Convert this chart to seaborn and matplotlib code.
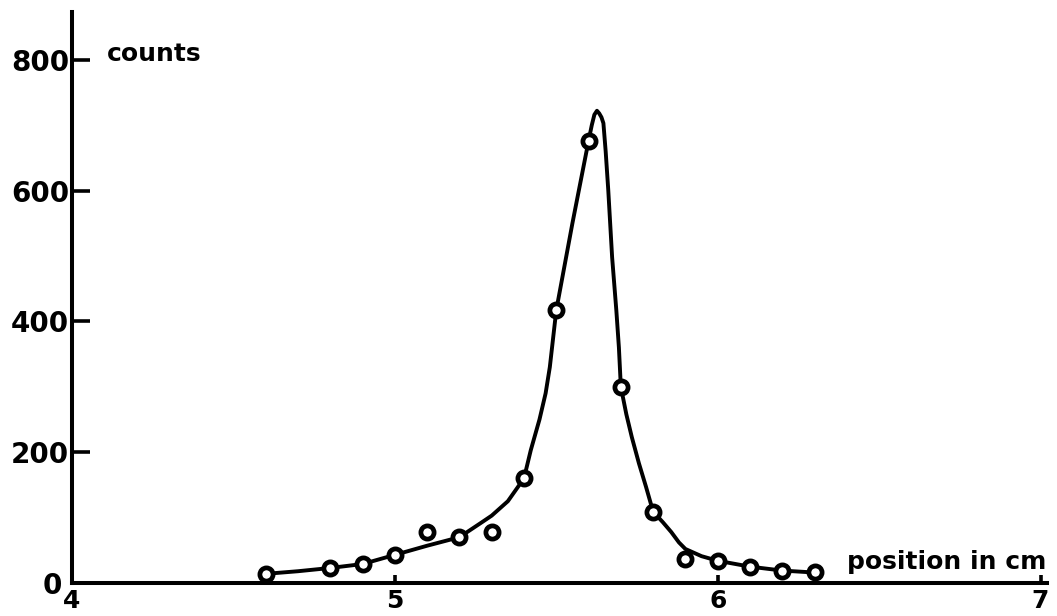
import matplotlib
matplotlib.use("Agg")
import matplotlib.pyplot as plt
import seaborn as sns
import pandas as pd

# measured points (position in cm, counts)
pos_cm = [4.6, 4.8, 4.9, 5.0, 5.1, 5.2, 5.3, 5.4, 5.5, 5.6, 5.7, 5.8, 5.9, 6.0, 6.1, 6.2, 6.3]
counts = [14, 23, 29, 43, 78, 70, 78, 160, 417, 676, 300, 109, 36, 34, 25, 18, 17]

# hand-drawn smooth curve
curve_x = [4.6, 4.7, 4.8, 4.9, 5.0, 5.1, 5.2, 5.27, 5.3, 5.35, 5.4, 5.421, 5.448,
           5.467, 5.48, 5.5, 5.55, 5.6, 5.61, 5.618, 5.626, 5.633, 5.64, 5.646,
           5.653, 5.661, 5.673, 5.686, 5.694, 5.7, 5.717, 5.734, 5.756, 5.778,
           5.8, 5.83, 5.856, 5.88, 5.9, 5.95, 6.0, 6.1, 6.2, 6.3]
curve_y = [14, 18, 23, 29, 43, 57, 70, 93, 103, 125, 160, 203, 250,
           290, 330, 417, 550, 676, 700, 716, 722, 718, 712, 703,
           660, 601, 498, 417, 360, 300, 258, 223, 183, 147,
           109, 93, 78, 62, 52, 41, 34, 25, 19, 16]

x_ticks = [4, 5, 6, 7]
x_ticklabels = ["4", "5", "6", "7"]
y_ticks = [0, 200, 400, 600, 800]
y_ticklabels = ["0", "200", "400", "600", "800"]

sns.set_theme(style="ticks")
plt.rcParams["font.family"] = ["DejaVu Sans"]

fig = plt.figure(figsize=(10.57, 6.16), dpi=100)
ax = fig.add_axes([72 / 1057, 33 / 616, 975 / 1057, 571 / 616])

pts = pd.DataFrame({"x": pos_cm, "y": counts})
crv = pd.DataFrame({"x": curve_x, "y": curve_y})

sns.lineplot(data=crv, x="x", y="y", ax=ax, color="black", linewidth=2.8,
             sort=False, zorder=2, solid_joinstyle="round", solid_capstyle="round")
ax.plot(pts["x"], pts["y"], linestyle="none", marker="o", markersize=9.5,
        markerfacecolor="white", markeredgecolor="black", markeredgewidth=3.4,
        zorder=3)

ax.set_xlim(4, 7.02)
ax.set_ylim(0, 873)
ax.set_xlabel("")
ax.set_ylabel("")

for s in ["top", "right"]:
    ax.spines[s].set_visible(False)
for s in ["left", "bottom"]:
    ax.spines[s].set_linewidth(2.9)
    ax.spines[s].set_color("black")

ax.set_xticks(x_ticks)
ax.set_xticklabels(x_ticklabels, fontsize=18, fontweight="bold")
ax.set_yticks(y_ticks)
ax.set_yticklabels(y_ticklabels, fontsize=20, fontweight="bold")
ax.tick_params(axis="y", direction="in", length=13, width=2.6, pad=2, colors="black")
ax.tick_params(axis="x", direction="in", length=6, width=2.6, pad=4, colors="black")
ax.yaxis.get_major_ticks()[0].set_pad(7)

ax.text(0.036, 0.927, "counts", transform=ax.transAxes, fontsize=18,
        fontweight="bold", ha="left", va="center", color="black")
ax.text(0.795, 0.037, "position in cm", transform=ax.transAxes, fontsize=18,
        fontweight="bold", ha="left", va="center", color="black")

fig.savefig("out.png", dpi=100, facecolor="white")
